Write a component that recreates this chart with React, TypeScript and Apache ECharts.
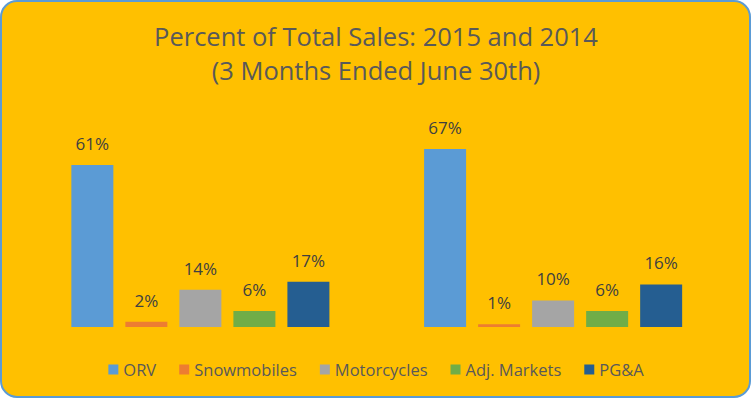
import React, { useEffect, useRef } from "react";
import * as echarts from "echarts";

const categories = ["2015", "2014"];
const seriesNames = ["ORV", "Snowmobiles", "Motorcycles", "Adj. Markets", "PG&A"];
const orv = [61, 67];
const snowmobiles = [2, 1];
const motorcycles = [14, 10];
const adjMarkets = [6, 6];
const pga = [17, 16];
const seriesData = [orv, snowmobiles, motorcycles, adjMarkets, pga];
const colors = ["#5B9BD5", "#ED7D31", "#A5A5A5", "#70AD47", "#255E91"];

export default function App() {
  const ref = useRef<HTMLDivElement>(null);
  useEffect(() => {
    document.body.style.margin = "0";
    const chart = echarts.init(ref.current!, undefined, { renderer: "svg" });
    const font = "'Open Sans', sans-serif";
    chart.setOption({
      animation: false,
      backgroundColor: "transparent",
      graphic: {
        elements: [
          {
            type: "rect",
            z: -10,
            silent: true,
            shape: { x: 1, y: 1, width: 749, height: 396, r: 16 },
            style: { fill: "#FFC000", stroke: "#5B9BD5", lineWidth: 2 },
          },
        ],
      },
      title: {
        text: "Percent of Total Sales: 2015 and 2014\n(3 Months Ended June 30th)",
        left: "center",
        top: 14,
        textStyle: {
          fontFamily: font,
          fontSize: 25.5,
          lineHeight: 34,
          fontWeight: "normal",
          color: "#595959",
        },
      },
      legend: {
        left: "center",
        top: 356,
        icon: "rect",
        itemWidth: 10,
        itemHeight: 10,
        itemGap: 23,
        textStyle: { fontFamily: font, fontSize: 16.5, color: "#595959" },
        data: seriesNames,
      },
      grid: { left: 24, right: 22.5, top: 141, bottom: 72 },
      xAxis: { type: "category", data: categories, show: false },
      yAxis: { type: "value", min: 0, max: 70, show: false },
      series: seriesNames.map((name, i) => ({
        name,
        type: "bar",
        data: seriesData[i],
        barWidth: 42,
        barGap: "28.6%",
        itemStyle: { color: colors[i] },
        label: {
          show: true,
          position: "top",
          distance: 13,
          formatter: "{c}%",
          fontFamily: font,
          fontSize: 17,
          color: "#404040",
        },
      })),
    });
    return () => chart.dispose();
  }, []);
  return <div ref={ref} style={{ width: 752, height: 399 }} />;
}
